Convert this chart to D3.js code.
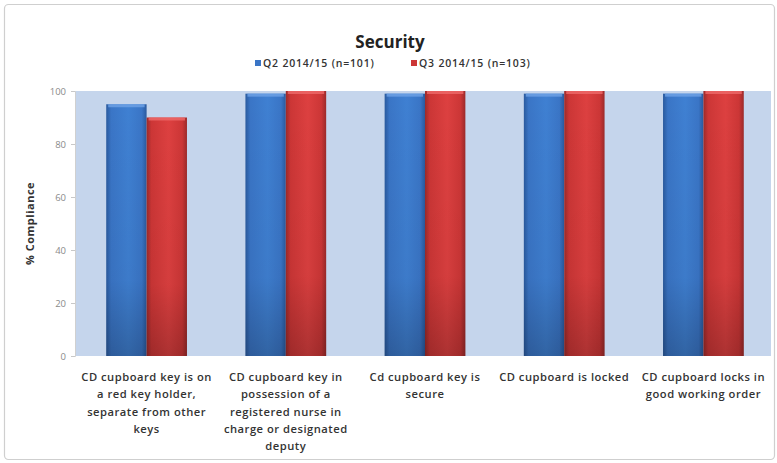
<!DOCTYPE html>
<html>
<head>
<meta charset="utf-8">
<script src="https://cdn.jsdelivr.net/npm/d3@7"></script>
<style>
  html, body { margin: 0; padding: 0; background: #ffffff; }
  svg { display: block; }
  text { font-family: "Open Sans", "Liberation Sans", sans-serif; }
</style>
</head>
<body>
<svg id="chart" width="777" height="463"></svg>
<script>
// Chart data
const categories = [
  ["CD cupboard key is on", "a red key holder,", "separate from other", "keys"],
  ["CD cupboard key in", "possession of a", "registered nurse in", "charge or designated", "deputy"],
  ["Cd cupboard key is", "secure"],
  ["CD cupboard is locked"],
  ["CD cupboard locks in", "good working order"]
];
const seriesNames = ["Q2 2014/15 (n=101)", "Q3 2014/15 (n=103)"];
const q2Values = [95, 99, 99, 99, 99];
const q3Values = [90, 100, 100, 100, 100];
const yTicks = [0, 20, 40, 60, 80, 100];

const svg = d3.select("#chart");
const W = 777, H = 463;
const margin = { left: 75, right: 6, top: 91, bottom: 107 };
const plotW = W - margin.left - margin.right;
const plotH = H - margin.top - margin.bottom;

// Outer chart frame
svg.append("rect")
  .attr("x", 4.5).attr("y", 4.5)
  .attr("width", W - 7).attr("height", H - 8)
  .attr("rx", 4)
  .attr("fill", "#ffffff")
  .attr("stroke", "#cfcfcf").attr("stroke-width", 1.2);

// Gradients for the bars
const defs = svg.append("defs");
function barGradient(id, edge, mid, light) {
  const g = defs.append("linearGradient").attr("id", id)
    .attr("x1", "0%").attr("x2", "100%").attr("y1", "0%").attr("y2", "0%");
  g.append("stop").attr("offset", "0%").attr("stop-color", edge);
  g.append("stop").attr("offset", "12%").attr("stop-color", mid);
  g.append("stop").attr("offset", "55%").attr("stop-color", light);
  g.append("stop").attr("offset", "88%").attr("stop-color", mid);
  g.append("stop").attr("offset", "100%").attr("stop-color", edge);
}
barGradient("gBlue", "#2a5a9e", "#3a75c6", "#3f80d2");
barGradient("gRed", "#9c2a2a", "#cc3636", "#dd4040");
const shade = defs.append("linearGradient").attr("id", "gShade")
  .attr("x1", "0%").attr("x2", "0%").attr("y1", "0%").attr("y2", "100%");
shade.append("stop").attr("offset", "0%").attr("stop-color", "#000").attr("stop-opacity", 0);
shade.append("stop").attr("offset", "70%").attr("stop-color", "#000").attr("stop-opacity", 0.04);
shade.append("stop").attr("offset", "100%").attr("stop-color", "#000").attr("stop-opacity", 0.22);

// Scales
const x0 = d3.scaleBand().domain(d3.range(categories.length))
  .range([2, plotW + 2]).paddingInner(0.42).paddingOuter(0.21);
const x1 = d3.scaleBand().domain([0, 1]).range([0, x0.bandwidth()]);
const y = d3.scaleLinear().domain([0, 100]).range([plotH, 0]);

const g = svg.append("g").attr("transform", `translate(${margin.left},${margin.top})`);

// Plot background
g.append("rect").attr("x", 0).attr("y", 0)
  .attr("width", plotW).attr("height", plotH)
  .attr("fill", "#c5d5ec");

// Y axis
const yAxis = d3.axisLeft(y).tickValues(yTicks).tickSize(4).tickPadding(5);
const ya = g.append("g").call(yAxis);
ya.select(".domain").attr("stroke", "#d0d0d0");
ya.selectAll(".tick line").attr("stroke", "#c8c8c8");
ya.selectAll(".tick text").attr("fill", "#8a8a8a").attr("font-size", 9.5);

// Bars
const series = [q2Values, q3Values];
const fills = ["url(#gBlue)", "url(#gRed)"];
const tops = ["#6fa2e6", "#ee6a6a"];
series.forEach((vals, si) => {
  const grp = g.append("g");
  vals.forEach((v, ci) => {
    const bx = x0(ci) + x1(si);
    const bw = x1.bandwidth();
    grp.append("rect").attr("x", bx).attr("y", y(v))
      .attr("width", bw).attr("height", y(0) - y(v)).attr("fill", fills[si]);
    grp.append("rect").attr("x", bx).attr("y", y(v))
      .attr("width", bw).attr("height", y(0) - y(v)).attr("fill", "url(#gShade)");
    grp.append("rect").attr("x", bx + 2).attr("y", y(v))
      .attr("width", bw - 4).attr("height", 3).attr("fill", tops[si]).attr("opacity", 0.8);
  });
});

// Category labels
categories.forEach((lines, ci) => {
  const cx = x0(ci) + x0.bandwidth() / 2;
  const t = g.append("text")
    .attr("text-anchor", "middle")
    .attr("font-size", 11.2).attr("font-weight", 600).attr("fill", "#333")
    .attr("letter-spacing", 0.5);
  lines.forEach((ln, li) => {
    t.append("tspan").attr("x", cx).attr("y", plotH + 25 + li * 17.3).text(ln);
  });
});

// Y axis title
svg.append("text")
  .attr("transform", `translate(34,${margin.top + plotH / 2}) rotate(-90)`)
  .attr("text-anchor", "middle")
  .attr("font-size", 11).attr("font-weight", 700).attr("fill", "#333")
  .attr("letter-spacing", 0.5)
  .text("% Compliance");

// Title
svg.append("text").attr("x", 390).attr("y", 48)
  .attr("text-anchor", "middle")
  .attr("font-size", 17).attr("font-weight", 700).attr("fill", "#222")
  .text("Security");

// Legend
const legendColors = ["#3a75c6", "#cc3636"];
const legendX = [255, 411];
seriesNames.forEach((name, i) => {
  svg.append("rect").attr("x", legendX[i]).attr("y", 60)
    .attr("width", 6).attr("height", 6).attr("fill", legendColors[i]);
  svg.append("text").attr("x", legendX[i] + 8).attr("y", 67)
    .attr("font-size", 10.5).attr("font-weight", 600).attr("fill", "#333")
    .attr("letter-spacing", 0.8)
    .text(name);
});
</script>
</body>
</html>
